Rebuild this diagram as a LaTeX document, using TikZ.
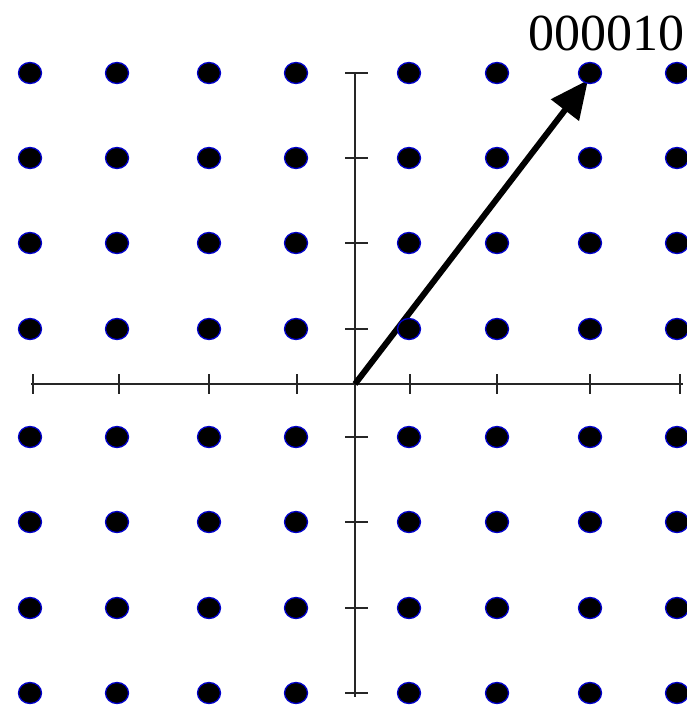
\documentclass[tikz,border=0pt]{standalone}
\usepackage{fontspec}
\setmainfont{Liberation Serif}
\usetikzlibrary{arrows.meta,shapes.geometric}
\begin{document}
\begin{tikzpicture}[x=1pt,y=-1pt,
  dot/.style={ellipse,fill=black,draw=blue!80!black,line width=1.3pt,minimum width=23pt,minimum height=21pt,inner sep=0pt},
  axis/.style={line width=2pt,draw=black!85},
  tick/.style={line width=2pt,draw=black!85},
  vec/.style={line width=6pt,-{Triangle[length=38pt,width=34pt]}}]
\useasboundingbox (0,0) rectangle (687,709);
\coordinate (O) at (355,384);
\coordinate (xl) at (31,384);
\coordinate (xr) at (683,384);
\coordinate (yt) at (355,73);
\coordinate (yb) at (355,697);
\draw[axis] (xl) -- (xr);
\draw[axis] (yt) -- (yb);
\foreach \x in {33,119,209,297,410,497,590,680}{
  \draw[tick] (\x,374) -- (\x,394);
}
\foreach \y in {73,158,243,329,437,522,608,693}{
  \draw[tick] (345,\y) -- (368,\y);
}
\coordinate (tip) at (588,80);
\draw[vec] (O) -- (tip);
\foreach \x [count=\i] in {30,117,209,296,409,497,590,677}{
  \foreach \y [count=\j] in {73,158,243,329,437,522,608,693}{
    \node[dot] (d\i\j) at (\x,\y) {};
  }
}
\node[font=\fontsize{52}{52}\selectfont,inner sep=0pt] (lab) at (606,33) {000010};
\end{tikzpicture}
\end{document}
